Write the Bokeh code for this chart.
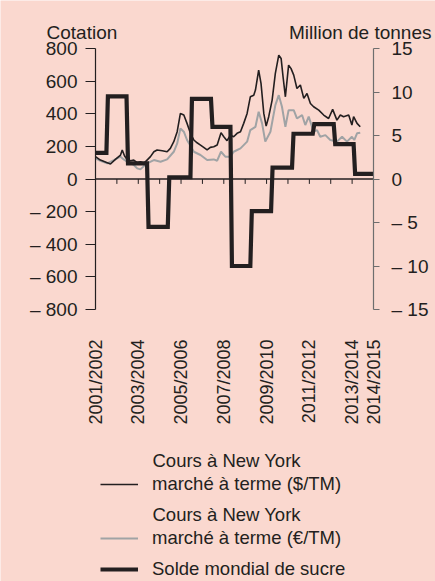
import math
from bokeh.plotting import figure
from bokeh.models import (Range1d, LinearAxis, FixedTicker, Label,
                          Legend, LegendItem)
from bokeh.embed import file_html
from bokeh.resources import INLINE

# ---------------- data ----------------
# x = season start year (2001 -> 2001/2002)
usd_x = [2001.0, 2001.23, 2001.55, 2001.70, 2001.93, 2002.17, 2002.25, 2002.36, 2002.48, 2002.64,
         2002.79, 2002.95, 2003.10, 2003.26, 2003.41, 2003.57, 2003.73, 2003.88, 2004.12, 2004.35,
         2004.50, 2004.66, 2004.82, 2004.97, 2005.13, 2005.28, 2005.44, 2005.60, 2005.75, 2005.91,
         2006.06, 2006.22, 2006.37, 2006.53, 2006.69, 2006.87, 2007.00, 2007.15, 2007.31, 2007.46,
         2007.62, 2007.78, 2007.93, 2008.09, 2008.24, 2008.40, 2008.48, 2008.63, 2008.74, 2008.87,
         2008.98, 2009.10, 2009.26, 2009.41, 2009.57, 2009.68, 2009.77, 2009.88, 2010.03, 2010.14,
         2010.27, 2010.42, 2010.58, 2010.74, 2010.89, 2011.05, 2011.20, 2011.44, 2011.67, 2011.90,
         2012.09, 2012.29, 2012.45, 2012.60, 2012.84, 2012.99, 2013.07, 2013.23, 2013.38]
usd_y = [137, 116, 100, 92, 120, 147, 178, 141, 120, 112,
         116, 100, 106, 96, 116, 137, 167, 178, 173, 167,
         188, 229, 290, 402, 392, 341, 280, 239, 222, 208,
         194, 178, 194, 198, 208, 284, 259, 235, 269, 259,
         280, 290, 341, 402, 504, 514, 545, 667, 586, 402,
         324, 382, 484, 647, 759, 739, 627, 504, 698, 678,
         637, 555, 576, 494, 524, 463, 443, 422, 392, 371,
         427, 361, 392, 382, 392, 331, 382, 341, 320]

eur_x = [2001.0, 2001.23, 2001.55, 2001.86, 2002.17, 2002.32, 2002.48, 2002.79, 2002.95, 2003.10,
         2003.41, 2003.73, 2004.04, 2004.35, 2004.66, 2004.82, 2004.97, 2005.13, 2005.28, 2005.60,
         2005.91, 2006.22, 2006.53, 2006.69, 2006.87, 2007.07, 2007.31, 2007.46, 2007.78, 2008.09,
         2008.24, 2008.48, 2008.63, 2008.79, 2008.94, 2009.18, 2009.41, 2009.57, 2009.72, 2009.88,
         2010.03, 2010.27, 2010.42, 2010.66, 2010.81, 2010.97, 2011.20, 2011.36, 2011.51, 2011.75,
         2011.98, 2012.29, 2012.53, 2012.76, 2012.99, 2013.10, 2013.23, 2013.38]
eur_y = [127, 112, 96, 116, 137, 120, 106, 86, 65, 59,
         96, 116, 106, 120, 167, 218, 310, 290, 239, 167,
         147, 116, 120, 112, 167, 137, 137, 167, 188, 229,
         300, 320, 412, 341, 229, 290, 453, 514, 443, 320,
         422, 422, 371, 392, 331, 382, 290, 300, 259, 269,
         239, 229, 259, 229, 259, 239, 280, 284]

# world sugar balance (million tonnes), step series
step_edges = [2001.0, 2001.51, 2002.45, 2003.41, 2004.38, 2005.44, 2006.40, 2007.31,
              2008.24, 2009.21, 2010.19, 2011.16, 2012.14, 2013.07, 2014.0]
step_values = [3.0, 9.5, 1.8, -5.5, 0.2, 9.2, 6.0, -10.0, -3.7, 1.3, 5.2, 6.3, 4.0, 0.6]

label_years = [2001, 2003, 2005, 2007, 2009, 2011, 2013, 2014]
season_labels = ["2001/2002", "2003/2004", "2005/2006", "2007/2008",
                 "2009/2010", "2011/2012", "2013/2014", "2014/2015"]
year_ticks = list(range(2002, 2014))
left_ticks = [-800, -600, -400, -200, 0, 200, 400, 600, 800]
left_labels = ["\u2013 800", "\u2013 600", "\u2013 400", "\u2013 200", "0", "200", "400", "600", "800"]
right_ticks = [-15, -10, -5, 0, 5, 10, 15]
right_labels = ["\u2013 15", "\u2013 10", "\u2013 5", "0", "5", "10", "15"]

left_title = "Cotation"
right_title = "Million de tonnes"
usd_label = ["Cours à New York", "marché à terme ($/TM)"]
eur_label = ["Cours à New York", "marché à terme (€/TM)"]
step_label = "Solde mondial de sucre"

# ---------------- style / layout ----------------
BG = "#FAD8CF"
INK = "#231F20"
GREY = "#A0A3A5"
AXGREY = "#6E6E6E"
FONT = "Liberation Sans"
W, H = 435, 581
PLOT_L, PLOT_R, PLOT_T, PLOT_B = 95, 373, 48, 309   # pixel box of the chart body

X0, X1 = label_years[0], label_years[-1]
Y0, Y1 = left_ticks[0], left_ticks[-1]
R0, R1 = right_ticks[0], right_ticks[-1]
xs = (PLOT_R - PLOT_L) / (X1 - X0)
ys = (PLOT_B - PLOT_T) / (Y1 - Y0)
x_range = Range1d(X0 - PLOT_L / xs, X1 + (W - PLOT_R) / xs)
y_lo = Y0 - (H - PLOT_B) / ys
y_hi = Y1 + PLOT_T / ys
k = R1 / Y1
y_range = Range1d(y_lo, y_hi)

# step path (slightly slanted risers as in the original)
slant = 0.07
step_x, step_y = [], []
for i, v in enumerate(step_values):
    step_x += [step_edges[i] + (slant if i > 0 else 0.0), step_edges[i + 1]]
    step_y += [v, v]

p = figure(width=W, height=H, x_range=x_range, y_range=y_range,
           output_backend="svg", toolbar_location=None,
           x_axis_location=None, y_axis_location=None, min_border=0,
           background_fill_color=BG, border_fill_color=BG, outline_line_color=None)
p.grid.visible = False
p.extra_y_ranges = {"mt": Range1d(y_lo * k, y_hi * k)}

left = LinearAxis(ticker=FixedTicker(ticks=left_ticks), fixed_location=X0, bounds=(Y0, Y1),
                  major_label_overrides=dict(zip(left_ticks, left_labels)),
                  axis_line_color=INK, axis_line_width=1.2,
                  major_tick_line_color=INK, major_tick_out=10, major_tick_in=0,
                  minor_tick_line_color=None, major_label_standoff=8,
                  major_label_text_font=FONT, major_label_text_font_size="19px",
                  major_label_text_color=INK)
p.add_layout(left, "left")

right = LinearAxis(y_range_name="mt", ticker=FixedTicker(ticks=right_ticks),
                   fixed_location=X1, bounds=(R0, R1),
                   major_label_overrides=dict(zip(right_ticks, right_labels)),
                   axis_line_color=AXGREY, axis_line_width=1.2,
                   major_tick_line_color=AXGREY, major_tick_out=6, major_tick_in=0,
                   minor_tick_line_color=None, major_label_standoff=12,
                   major_label_text_font=FONT, major_label_text_font_size="19px",
                   major_label_text_color=INK)
p.add_layout(right, "right")

bottom = LinearAxis(ticker=FixedTicker(ticks=label_years), fixed_location=Y0,
                    major_label_overrides=dict(zip(label_years, season_labels)),
                    major_label_orientation=math.pi / 2,
                    axis_line_color=None, major_tick_line_color=None,
                    minor_tick_line_color=None, major_label_standoff=24,
                    major_label_text_font=FONT, major_label_text_font_size="18px",
                    major_label_text_color=INK)
p.add_layout(bottom, "below")

# zero line with year ticks
p.segment(x0=[X0], y0=[0], x1=[X1], y1=[0], line_color=INK, line_width=1.5)
p.segment(x0=year_ticks, y0=[0] * len(year_ticks), x1=year_ticks, y1=[-30] * len(year_ticks),
          line_color=INK, line_width=1)

r_eur = p.line(eur_x, eur_y, line_color=GREY, line_width=2)
r_usd = p.line(usd_x, usd_y, line_color=INK, line_width=1.6)
r_step = p.line(step_x, step_y, y_range_name="mt", line_color=INK, line_width=4.2,
                line_join="miter")

p.add_layout(Label(x=X0, y=Y1, x_offset=-49, y_offset=16, text=left_title,
                   text_font=FONT, text_font_size="19px", text_color=INK,
                   text_align="left", text_baseline="alphabetic"))
p.add_layout(Label(x=X1, y=Y1, x_offset=58, y_offset=16, text=right_title,
                   text_font=FONT, text_font_size="19px", text_color=INK,
                   text_align="right", text_baseline="alphabetic"))

# legend: first text line of each price entry, then one legend entry per series
LEG_FS = "18.5px"
TXT_X = 152
for txt, cy in ((usd_label[0], 460), (eur_label[0], 514)):
    p.add_layout(Label(x=TXT_X, y=H - cy, x_units="screen", y_units="screen", text=txt,
                       text_font=FONT, text_font_size=LEG_FS, text_color=INK,
                       text_align="left", text_baseline="middle"))

def make_legend(item, center):
    gh = 34
    return Legend(items=[item], orientation="vertical",
                  location=(100, H - center - gh // 2),
                  background_fill_alpha=0, border_line_alpha=0,
                  label_text_font=FONT, label_text_font_size=LEG_FS, label_text_color=INK,
                  glyph_width=38, glyph_height=gh, label_height=22, label_standoff=14,
                  spacing=0, padding=0, margin=0)

p.add_layout(make_legend(LegendItem(label=usd_label[1], renderers=[r_usd]), 484))
p.add_layout(make_legend(LegendItem(label=eur_label[1], renderers=[r_eur]), 538))
p.add_layout(make_legend(LegendItem(label=step_label, renderers=[r_step]), 569))

open("out.html", "w").write(file_html(p, INLINE))
